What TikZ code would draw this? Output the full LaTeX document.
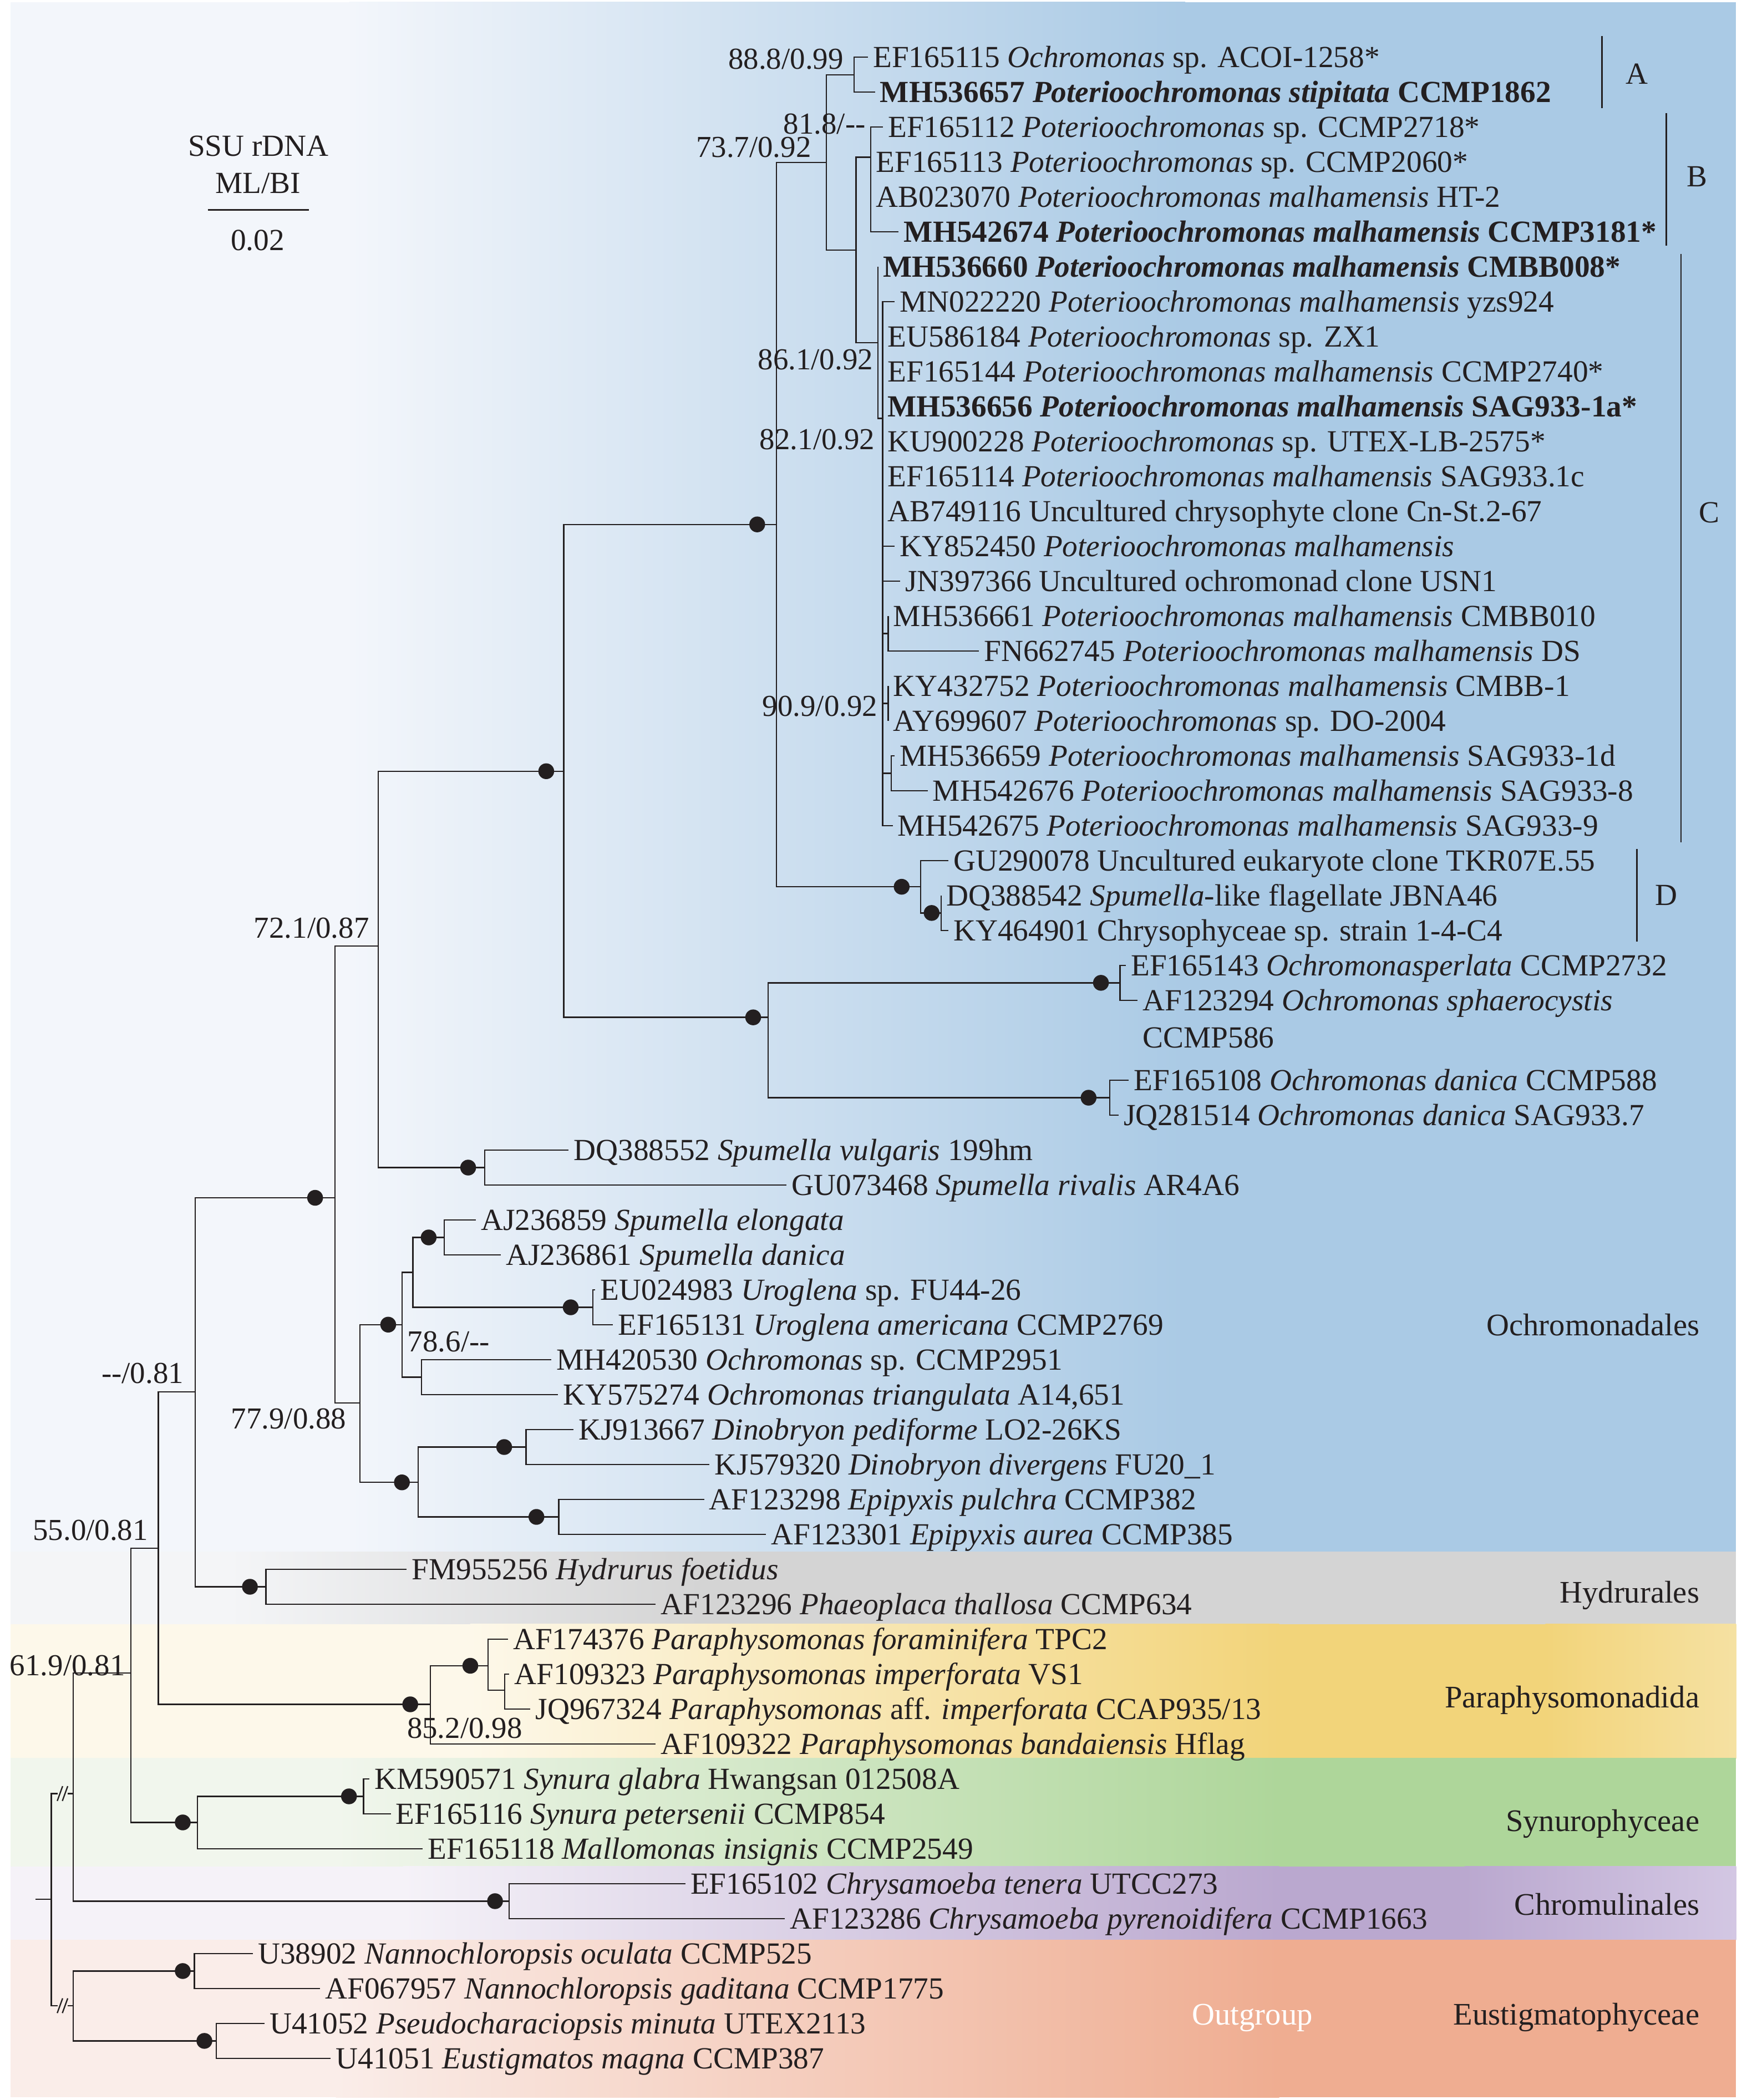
\documentclass[tikz,border=0pt]{standalone}
\usepackage{fontspec}
\setmainfont{Liberation Serif}
\usetikzlibrary{calc}
\newcommand{\treefont}{\fontsize{13}{15.6}\selectfont}
\newcommand{\bsfont}{\fontsize{12.9}{15.5}\selectfont}
\newcommand{\grpfont}{\fontsize{13.3}{16}\selectfont}
\definecolor{ink}{RGB}{35,31,32}
\definecolor{bluP}{RGB}{243,246,251}
\definecolor{bluF}{RGB}{170,202,229}
\definecolor{gryP}{RGB}{244,245,247}
\definecolor{gryF}{RGB}{212,212,212}
\definecolor{yelP}{RGB}{253,248,234}
\definecolor{yelF}{RGB}{242,212,122}
\definecolor{yelL}{RGB}{245,225,162}
\definecolor{grnP}{RGB}{241,246,237}
\definecolor{grnF}{RGB}{174,214,154}
\definecolor{purP}{RGB}{245,242,248}
\definecolor{purF}{RGB}{186,168,207}
\definecolor{purL}{RGB}{211,199,227}
\definecolor{orgP}{RGB}{250,237,233}
\definecolor{orgF}{RGB}{239,173,145}
\begin{document}
\begin{tikzpicture}[x=0.02cm,y=-0.02cm,
  br/.style={draw=ink,line width=0.55pt},
  leaf/.style={anchor=west,inner xsep=2pt,inner ysep=0pt,text height=8.8pt,text depth=0pt,font=\treefont,text=ink},
  dot/.style={circle,fill=ink,inner sep=0pt,minimum size=0.235cm},
  bs/.style={inner sep=0pt,font=\bsfont,text=ink},
  grp/.style={anchor=base east,inner sep=0pt,font=\grpfont,text=ink},
  clade/.style={anchor=base,inner sep=0pt,font=\treefont,text=ink},
  bar/.style={draw=ink,line width=0.65pt}]
\useasboundingbox (0,0) rectangle (1300,1563);
\fill[white] (0,0) rectangle (1300,1563);
% ---------- coloured bands ----------
\fill[bluP] (8,1.5) rectangle (262,1155.5);
\shade[left color=bluP,right color=bluF] (260,1.5) rectangle (882,1155.5);
\fill[bluF] (880,1.5) rectangle (1292,1155.5);
\fill[gryP] (8,1155) rectangle (172,1209);
\shade[left color=gryP,right color=gryF] (170,1155) rectangle (522,1209);
\fill[gryF] (520,1155) rectangle (1292,1209);
\fill[yelP] (8,1208.7) rectangle (352,1308.8);
\shade[left color=yelP,right color=yelF] (350,1208.7) rectangle (952,1308.8);
\fill[yelF] (950,1208.7) rectangle (1152,1308.8);
\shade[left color=yelF,right color=yelL] (1150,1208.7) rectangle (1292,1308.8);
\fill[grnP] (8,1308.5) rectangle (252,1389.5);
\shade[left color=grnP,right color=grnF] (250,1308.5) rectangle (952,1389.5);
\fill[grnF] (950,1308.5) rectangle (1292,1389.5);
\fill[purP] (8,1389.2) rectangle (302,1444);
\shade[left color=purP,right color=purF] (300,1389.2) rectangle (952,1444);
\fill[purF] (950,1389.2) rectangle (1092,1444);
\shade[left color=purF,right color=purL] (1090,1389.2) rectangle (1292,1444);
\fill[orgP] (8,1443.8) rectangle (252,1561);
\shade[left color=orgP,right color=orgF] (250,1443.8) rectangle (952,1561);
\fill[orgF] (950,1443.8) rectangle (1292,1561);
% ---------- internal nodes ----------
\coordinate (Rs) at (26.3,1413.5);
\coordinate (R) at (38.2,1413.5);
\coordinate (N54) at (54.5,1334.9);
\coordinate (OG) at (54.5,1492.8);
\coordinate (brA1) at (43,1334.9);
\coordinate (brA2) at (50.5,1334.9);
\coordinate (brB1) at (43,1492.8);
\coordinate (brB2) at (50.5,1492.8);
\coordinate (N97) at (97.4,1245.2);
\coordinate (Chrom) at (379,1415);
\coordinate (N118) at (117.9,1152.2);
\coordinate (Syn) at (146.8,1356.4);
\coordinate (N145) at (145.3,1035.9);
\coordinate (Para) at (320.3,1268.5);
\coordinate (N249) at (249.3,891.5);
\coordinate (Hyd) at (197.9,1181);
\coordinate (N72) at (281.6,704.2);
\coordinate (N77) at (267.9,1044.2);
\coordinate (Nmid) at (419.5,574);
\coordinate (Spu) at (360.8,869);
\coordinate (Nbig) at (577.8,390.3);
\coordinate (Noch) at (571.5,757.2);
\coordinate (N73) at (615,121);
\coordinate (ND) at (685,660);
\coordinate (NA) at (635.6,55.6);
\coordinate (NBC) at (637.1,186);
\coordinate (NB) at (648.1,117);
\coordinate (NC) at (653.4,255);
\coordinate (NC2) at (656.8,311.4);
\coordinate (N16) at (661,471.5);
\coordinate (N18) at (661,523.5);
\coordinate (N20) at (663.3,575.5);
\coordinate (ND2) at (700.3,679.5);
\coordinate (Nper) at (833.5,731.5);
\coordinate (Ndan) at (825.8,817);
\coordinate (N299) at (299.1,985.9);
\coordinate (NDE) at (311.1,1103.3);
\coordinate (NSU) at (307.3,947);
\coordinate (N786) at (313.6,1025);
\coordinate (NSp) at (330.5,921);
\coordinate (NUro) at (441.3,973);
\coordinate (NDin) at (391.5,1077);
\coordinate (NEpi) at (415.8,1129);
\coordinate (Para2) at (363.2,1239.8);
\coordinate (Para3) at (375.5,1258);
\coordinate (NSyn) at (270.5,1337);
\coordinate (NNan) at (144.7,1467);
\coordinate (NPse) at (161,1519);
% ---------- leaves ----------
\node[leaf] (r0) at (645.9,42.5) {EF165115 \textit{Ochromonas} sp. ACOI-1258*};
\node[leaf] (r1) at (651.1,68.5) {\textbf{MH536657 \textit{Poterioochromonas stipitata} CCMP1862}};
\node[leaf] (r2) at (657,94.5) {EF165112 \textit{Poterioochromonas} sp. CCMP2718*};
\node[leaf] (r3) at (648.1,120.5) {EF165113 \textit{Poterioochromonas} sp. CCMP2060*};
\node[leaf] (r4) at (648.1,146.5) {AB023070 \textit{Poterioochromonas malhamensis} HT-2};
\node[leaf] (r5) at (668.8,172.5) {\textbf{MH542674 \textit{Poterioochromonas malhamensis} CCMP3181*}};
\node[leaf] (r6) at (653.4,198.5) {\textbf{MH536660 \textit{Poterioochromonas malhamensis} CMBB008*}};
\node[leaf] (r7) at (665.7,224.5) {MN022220 \textit{Poterioochromonas malhamensis} yzs924};
\node[leaf] (r8) at (656.8,250.5) {EU586184 \textit{Poterioochromonas} sp. ZX1};
\node[leaf] (r9) at (656.8,276.5) {EF165144 \textit{Poterioochromonas malhamensis} CCMP2740*};
\node[leaf] (r10) at (656.8,302.5) {\textbf{MH536656 \textit{Poterioochromonas malhamensis} SAG933-1a*}};
\node[leaf] (r11) at (656.8,328.5) {KU900228 \textit{Poterioochromonas} sp. UTEX-LB-2575*};
\node[leaf] (r12) at (656.8,354.5) {EF165114 \textit{Poterioochromonas malhamensis} SAG933.1c};
\node[leaf] (r13) at (656.8,380.5) {AB749116 Uncultured chrysophyte clone Cn-St.2-67};
\node[leaf] (r14) at (665.7,406.5) {KY852450 \textit{Poterioochromonas malhamensis}};
\node[leaf] (r15) at (669.8,432.5) {JN397366 Uncultured ochromonad clone USN1};
\node[leaf] (r16) at (661,458.5) {MH536661 \textit{Poterioochromonas malhamensis} CMBB010};
\node[leaf] (r17) at (728.5,484.5) {FN662745 \textit{Poterioochromonas malhamensis} DS};
\node[leaf] (r18) at (661,510.5) {KY432752 \textit{Poterioochromonas malhamensis} CMBB-1};
\node[leaf] (r19) at (661,536.5) {AY699607 \textit{Poterioochromonas} sp. DO-2004};
\node[leaf] (r20) at (665.7,562.5) {MH536659 \textit{Poterioochromonas malhamensis} SAG933-1d};
\node[leaf] (r21) at (690.3,588.5) {MH542676 \textit{Poterioochromonas malhamensis} SAG933-8};
\node[leaf] (r22) at (664.3,614.5) {MH542675 \textit{Poterioochromonas malhamensis} SAG933-9};
\node[leaf] (r23) at (705.7,640.5) {GU290078 Uncultured eukaryote clone TKR07E.55};
\node[leaf] (r24) at (700.3,666.5) {DQ388542 \textit{Spumella}-like flagellate JBNA46};
\node[leaf] (r25) at (705.7,692.5) {KY464901 Chrysophyceae sp. strain 1-4-C4};
\node[leaf] (r26) at (837.8,718.5) {EF165143 \textit{Ochromonasperlata} CCMP2732};
\node[leaf] (r27) at (846.6,744.5) {AF123294 \textit{Ochromonas sphaerocystis}};
\node[leaf] (r27b) at (846.6,772) {CCMP586};
\node[leaf] (r29) at (840,804) {EF165108 \textit{Ochromonas danica} CCMP588};
\node[leaf] (r30) at (832.4,830) {JQ281514 \textit{Ochromonas danica} SAG933.7};
\node[leaf] (r31) at (423.1,856) {DQ388552 \textit{Spumella vulgaris} 199hm};
\node[leaf] (r32) at (585.4,882) {GU073468 \textit{Spumella rivalis} AR4A6};
\node[leaf] (r33) at (354,908) {AJ236859 \textit{Spumella elongata}};
\node[leaf] (r34) at (372.6,934) {AJ236861 \textit{Spumella danica}};
\node[leaf] (r35) at (443,960) {EU024983 \textit{Uroglena} sp. FU44-26};
\node[leaf] (r36) at (456.1,986) {EF165131 \textit{Uroglena americana} CCMP2769};
\node[leaf] (r37) at (410.2,1012) {MH420530 \textit{Ochromonas} sp. CCMP2951};
\node[leaf] (r38) at (415.3,1038) {KY575274 \textit{Ochromonas triangulata} A14,651};
\node[leaf] (r39) at (426.8,1064) {KJ913667 \textit{Dinobryon pediforme} LO2-26KS};
\node[leaf] (r40) at (528,1090) {KJ579320 \textit{Dinobryon divergens} FU20\_1};
\node[leaf] (r41) at (524,1116) {AF123298 \textit{Epipyxis pulchra} CCMP382};
\node[leaf] (r42) at (570,1142) {AF123301 \textit{Epipyxis aurea} CCMP385};
\node[leaf] (r43) at (302.6,1168) {FM955256 \textit{Hydrurus foetidus}};
\node[leaf] (r44) at (488,1194) {AF123296 \textit{Phaeoplaca thallosa} CCMP634};
\node[leaf] (r45) at (378,1220) {AF174376 \textit{Paraphysomonas foraminifera} TPC2};
\node[leaf] (r46) at (379,1246) {AF109323 \textit{Paraphysomonas imperforata} VS1};
\node[leaf] (r47) at (394.7,1272) {JQ967324 \textit{Paraphysomonas} aff. \textit{imperforata} CCAP935/13};
\node[leaf] (r48) at (488,1298) {AF109322 \textit{Paraphysomonas bandaiensis} Hflag};
\node[leaf] (r49) at (275,1324) {KM590571 \textit{Synura glabra} Hwangsan 012508A};
\node[leaf] (r50) at (290.8,1350) {EF165116 \textit{Synura petersenii} CCMP854};
\node[leaf] (r51) at (314.5,1376) {EF165118 \textit{Mallomonas insignis} CCMP2549};
\node[leaf] (r52) at (510,1402) {EF165102 \textit{Chrysamoeba tenera} UTCC273};
\node[leaf] (r53) at (584,1428) {AF123286 \textit{Chrysamoeba pyrenoidifera} CCMP1663};
\node[leaf] (r54) at (188.2,1454) {U38902 \textit{Nannochloropsis oculata} CCMP525};
\node[leaf] (r55) at (238.2,1480) {AF067957 \textit{Nannochloropsis gaditana} CCMP1775};
\node[leaf] (r56) at (196.8,1506) {U41052 \textit{Pseudocharaciopsis minuta} UTEX2113};
\node[leaf] (r57) at (246,1532) {U41051 \textit{Eustigmatos magna} CCMP387};
% ---------- branches ----------
\draw[br] (Rs) -- (R);
\draw[br] (R) |- (brA1);
\draw[br] (brA2) -- (N54);
\draw[br] (R) |- (brB1);
\draw[br] (brB2) -- (OG);
\foreach \b in {brA1,brB1}{
  \draw[br] ($(\b)+(-0.4,5.5)$) -- ++(4,-11);
  \draw[br] ($(\b)+(3.4,5.5)$) -- ++(4,-11);
}
\foreach \p/\c in {N54/N97,N54/Chrom,N97/N118,N97/Syn,N118/N145,N118/Para,
  N145/N249,N145/Hyd,N249/N72,N249/N77,N72/Nmid,N72/Spu,Nmid/Nbig,Nmid/Noch,
  Nbig/N73,Nbig/ND,N73/NA,N73/NBC,NA/r0,NA/r1,NBC/NB,NBC/NC,
  NB/r2,NB/r3,NB/r4,NB/r5,NC/r6,NC/NC2,
  NC2/r7,NC2/r8,NC2/r9,NC2/r10,NC2/r11,NC2/r12,NC2/r13,NC2/r14,NC2/r15,
  NC2/N16,NC2/N18,NC2/N20,NC2/r22,N16/r16,N16/r17,N18/r18,N18/r19,N20/r20,N20/r21,
  ND/r23,ND/ND2,ND2/r24,ND2/r25,Noch/Nper,Noch/Ndan,Nper/r26,Nper/r27,Ndan/r29,Ndan/r30,
  Spu/r31,Spu/r32,N77/N299,N77/NDE,N299/NSU,N299/N786,NSU/NSp,NSU/NUro,
  NSp/r33,NSp/r34,NUro/r35,NUro/r36,N786/r37,N786/r38,NDE/NDin,NDE/NEpi,
  NDin/r39,NDin/r40,NEpi/r41,NEpi/r42,Hyd/r43,Hyd/r44,Para/Para2,Para/r48,
  Para2/r45,Para2/Para3,Para3/r46,Para3/r47,Syn/NSyn,Syn/r51,NSyn/r49,NSyn/r50,
  Chrom/r52,Chrom/r53,OG/NNan,OG/NPse,NNan/r54,NNan/r55,NPse/r56,NPse/r57}
  {\draw[br] (\p) |- (\c);}
% ---------- support dots ----------
\foreach \n/\x/\y in {dbig/563.5/390.3,dmid/406.5/574,d249/234.5/891.5,dD/671/660,
  dD2/693.3/679.5,dper/819.3/731.5,ddan/810.1/817,doch/560.5/757.2,dspu/348.4/869,
  dsp/319/921,duro/424.7/973,d299/288.9/985.9,dde/299.1/1103.3,ddin/375.2/1077,
  depi/399.2/1129,dhyd/186/1181,dpara/305.3/1268.5,dpara2/350/1239.8,dsyn/136/1356.4,
  dsyn2/259.7/1337,dchr/368.4/1415,dnan/136/1467,dpse/152.1/1519}
  {\node[dot] (\n) at (\x,\y) {};}
% ---------- support values ----------
\node[bs,anchor=base east] (b1) at (628,51.5) {88.8/0.99};
\node[bs,anchor=base east] (b2) at (644.5,99.5) {81.8/-{}-};
\node[bs,anchor=base east] (b3) at (604,117) {73.7/0.92};
\node[bs,anchor=base east] (b4) at (650,275) {86.1/0.92};
\node[bs,anchor=base east] (b5) at (651.4,334.6) {82.1/0.92};
\node[bs,anchor=base east] (b6) at (653.4,533) {90.9/0.92};
\node[bs,anchor=base east] (b7) at (275,698) {72.1/0.87};
\node[bs,anchor=base west] (b8) at (303,1006) {78.6/-{}-};
\node[bs,anchor=base east] (b9) at (258,1063.4) {77.9/0.88};
\node[bs,anchor=base east] (b10) at (137,1029.5) {-{}-/0.81};
\node[bs,anchor=base east] (b11) at (110.5,1146.4) {55.0/0.81};
\node[bs,anchor=base east] (b12) at (93.4,1247) {61.9/0.81};
\node[bs,anchor=base west] (b13) at (302.6,1293.6) {85.2/0.98};
% ---------- clade bars ----------
\coordinate (A1) at (1192,27); \coordinate (A2) at (1192,80.5);
\coordinate (B1) at (1240,84); \coordinate (B2) at (1240,183);
\coordinate (C1) at (1251,189); \coordinate (C2) at (1251,627);
\coordinate (D1) at (1218,632); \coordinate (D2) at (1218,701);
\draw[bar] (A1) -- (A2);
\draw[bar] (B1) -- (B2);
\draw[bar] (C1) -- (C2);
\draw[bar] (D1) -- (D2);
\node[clade] (lA) at (1218,62.4) {A};
\node[clade] (lB) at (1263,139) {B};
\node[clade] (lC) at (1272,389) {C};
\node[clade] (lD) at (1240,673.7) {D};
% ---------- group labels ----------
\node[grp] (gOch) at (1265,994) {Ochromonadales};
\node[grp] (gHyd) at (1265,1193) {Hydrurales};
\node[grp] (gPar) at (1265,1271) {Paraphysomonadida};
\node[grp] (gSyn) at (1265,1363) {Synurophyceae};
\node[grp] (gChr) at (1265,1425.5) {Chromulinales};
\node[grp] (gEus) at (1265,1507) {Eustigmatophyceae};
\node[anchor=base,inner sep=0pt,font=\grpfont,text=white] (gOut) at (932,1507) {Outgroup};
% ---------- header and scale ----------
\node[anchor=base,inner sep=0pt,font=\treefont,text=ink] (h1) at (192.3,116.3) {SSU rDNA};
\node[anchor=base,inner sep=0pt,font=\treefont,text=ink] (h2) at (191.9,143.8) {ML/BI};
\coordinate (s1) at (154.6,156.2); \coordinate (s2) at (229.9,156.2);
\draw[draw=ink,line width=0.8pt] (s1) -- (s2);
\node[anchor=base,inner sep=0pt,font=\treefont,text=ink] (h3) at (191.7,186.4) {0.02};
\end{tikzpicture}
\end{document}
